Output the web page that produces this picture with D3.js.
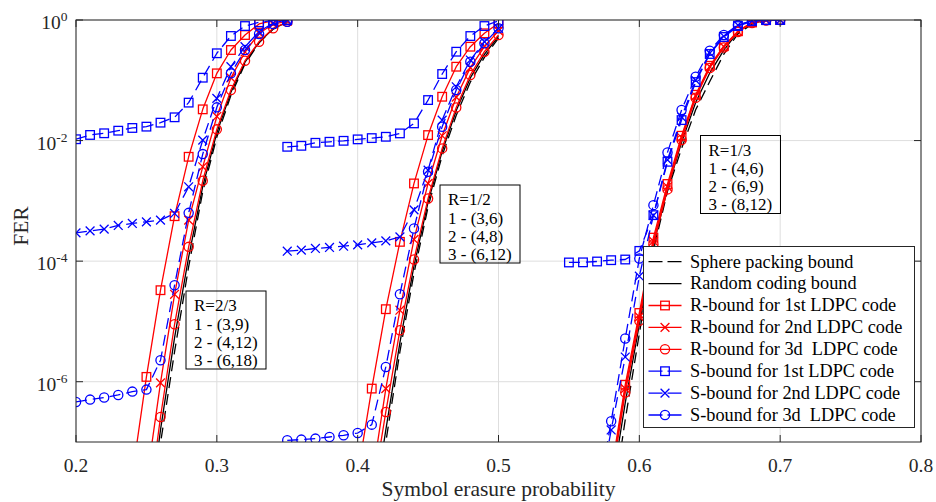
<!DOCTYPE html>
<html>
<head>
<meta charset="utf-8">
<script src="https://cdn.jsdelivr.net/npm/d3@7"></script>
<style>
  body { margin: 0; background: #fff; }
  svg { display: block; font-family: "Liberation Serif", "Times New Roman", serif; }
</style>
</head>
<body>
<svg id="chart" width="936" height="502"></svg>
<script>
// ---------- axis ticks ----------
const xTicks = [0.2, 0.3, 0.4, 0.5, 0.6, 0.7, 0.8];
const xTickLabels = ["0.2", "0.3", "0.4", "0.5", "0.6", "0.7", "0.8"];
const yTickExponents = [0, -2, -4, -6];

// ---------- R = 2/3 codes ----------
const x23 = [0.20, 0.21, 0.22, 0.23, 0.24, 0.25, 0.26, 0.27, 0.28, 0.29, 0.30, 0.31, 0.32, 0.33, 0.34, 0.35];
const sp23 = [null, null, null, null, null, 1.259e-9, 9.55e-8, 3.162e-6, 8.128e-5, 1.413e-3, 1.148e-2, 5.623e-2, 0.1862, 0.4169, 0.7079, 0.912];
const rc23 = [null, null, null, null, null, 2.512e-9, 1.585e-7, 5.37e-6, 1.175e-4, 1.738e-3, 1.349e-2, 6.31e-2, 0.1995, 0.4266, 0.7161, 0.9226];
const r1_23 = [null, null, null, null, 2.818e-8, 1.202e-6, 3.296e-5, 5.572e-4, 5.383e-3, 3.296e-2, 0.1303, 0.3177, 0.5636, 0.859, 0.977, 1.0];
const r2_23 = [null, null, null, null, null, 2.138e-8, 9.55e-7, 2.818e-5, 4.786e-4, 3.673e-3, 2.512e-2, 0.1096, 0.2951, 0.6026, 0.851, 0.955];
const r3_23 = [null, null, null, null, null, 4.467e-9, 2.6e-7, 8.974e-6, 1.726e-4, 2.153e-3, 1.535e-2, 6.887e-2, 0.2113, 0.4365, 0.7278, 0.933];
const s1_23 = [1.052e-2, 1.239e-2, 1.321e-2, 1.459e-2, 1.618e-2, 1.702e-2, 1.982e-2, 2.432e-2, 4.26e-2, 0.1104, 0.2805, 0.543, 0.794, 0.916, 0.99, 1.0];
const s2_23 = [2.944e-4, 3.177e-4, 3.396e-4, 3.908e-4, 4.217e-4, 4.487e-4, 4.786e-4, 6.18e-4, 1.71e-3, 1.019e-2, 5.01e-2, 0.168, 0.3606, 0.6397, 0.891, 1.0];
const s3_23 = [4.613e-7, 5.047e-7, 5.458e-7, 6.026e-7, 6.855e-7, 7.396e-7, 2.27e-6, 3.99e-5, 6.32e-4, 5.97e-3, 3.556e-2, 0.1303, 0.3177, 0.5861, 0.859, 0.938];

// ---------- R = 1/2 codes ----------
const x12 = [0.35, 0.36, 0.37, 0.38, 0.39, 0.40, 0.41, 0.42, 0.43, 0.44, 0.45, 0.46, 0.47, 0.48, 0.49, 0.50];
const sp12 = [null, null, null, null, null, null, 2.512e-9, 1.0e-7, 3.162e-6, 6.31e-5, 7.943e-4, 5.623e-3, 2.63e-2, 9.333e-2, 0.2399, 0.5012];
const rc12 = [null, null, null, null, null, null, 5.012e-9, 1.585e-7, 4.467e-6, 8.318e-5, 9.55e-4, 6.607e-3, 3.162e-2, 0.1096, 0.2692, 0.537];
const r1_12 = [null, null, null, null, null, 2.884e-8, 7.691e-7, 1.596e-5, 2.089e-4, 1.945e-3, 1.233e-2, 5.333e-2, 0.1679, 0.3606, 0.6012, 0.881];
const r2_12 = [null, null, null, null, null, null, 2.291e-8, 7.691e-7, 1.535e-5, 2.291e-4, 1.95e-3, 1.202e-2, 5.248e-2, 0.1622, 0.3631, 0.6607];
const r3_12 = [null, null, null, null, null, null, 1.175e-8, 3.148e-7, 7.145e-6, 1.064e-4, 1.096e-3, 7.413e-3, 3.548e-2, 0.1222, 0.2979, 0.5636];
const s1_12 = [7.889e-3, 8.185e-3, 9.183e-3, 9.55e-3, 9.908e-3, 1.047e-2, 1.099e-2, 1.156e-2, 1.315e-2, 1.928e-2, 4.699e-2, 0.127, 0.2979, 0.542, 0.794, 0.973];
const s2_12 = [1.462e-4, 1.521e-4, 1.622e-4, 1.687e-4, 1.77e-4, 1.862e-4, 2.009e-4, 2.168e-4, 2.529e-4, 7.096e-4, 3.236e-3, 2.188e-2, 7.816e-2, 0.2168, 0.4365, 0.7278];
const s3_12 = [1.067e-7, 1.096e-7, 1.138e-7, 1.211e-7, 1.291e-7, 1.409e-7, 1.941e-7, 1.758e-6, 2.831e-5, 3.483e-4, 3.034e-3, 1.694e-2, 6.887e-2, 0.2032, 0.4102, 0.7278];

// ---------- R = 1/3 codes ----------
const x13 = [0.55, 0.56, 0.57, 0.58, 0.59, 0.60, 0.61, 0.62, 0.63, 0.64, 0.65, 0.66, 0.67, 0.68, 0.69, 0.70];
const sp13 = [null, null, null, 6.31e-9, 2.344e-7, 6.31e-6, 1.514e-4, 1.445e-3, 7.413e-3, 3.236e-2, 9.55e-2, 0.2716, 0.5888, 0.8511, 0.966, 1.0];
const rc13 = [null, null, null, 1.585e-8, 4.467e-7, 8.913e-6, 1.82e-4, 1.585e-3, 9.333e-3, 4.266e-2, 0.1318, 0.3162, 0.631, 0.8913, 0.977, 1.0];
const r1_13 = [null, null, null, 3.162e-8, 8.913e-7, 1.38e-5, 2.455e-4, 1.905e-3, 1.202e-2, 5.754e-2, 0.1738, 0.3715, 0.6531, 0.912, 1.0, 1.0];
const r2_13 = [null, null, null, 2.692e-8, 7.691e-7, 1.189e-5, 2.143e-4, 1.71e-3, 1.122e-2, 5.495e-2, 0.1679, 0.3606, 0.6397, 0.9016, 0.9886, 1.0];
const r3_13 = [null, null, null, 2.239e-8, 6.607e-7, 1.023e-5, 1.905e-4, 1.549e-3, 1.023e-2, 5.129e-2, 0.1603, 0.3508, 0.631, 0.8913, 0.9817, 1.0];
const s1_13 = [9.506e-5, 9.55e-5, 9.863e-5, 1.038e-4, 1.064e-4, 1.479e-4, 5.794e-4, 4.446e-3, 2.188e-2, 9.333e-2, 0.2729, 0.5224, 0.794, 0.955, 0.995, 1.0];
const s2_13 = [null, null, 7.943e-9, 1.585e-7, 2.57e-6, 5.623e-5, 5.754e-4, 4.786e-3, 2.455e-2, 0.1, 0.2818, 0.537, 0.8222, 0.966, 1.0, 1.0];
const s3_13 = [null, null, 1.0e-8, 2.203e-7, 5.2e-6, 1.107e-4, 8.492e-4, 6.368e-3, 3.206e-2, 0.1146, 0.309, 0.5636, 0.826, 0.973, 1.0, 1.0];

// ---------- legend and annotation text ----------
const legendLabels = [
  "Sphere packing bound",
  "Random coding bound",
  "R-bound for 1st LDPC code",
  "R-bound for 2nd LDPC code",
  "R-bound for 3d  LDPC code",
  "S-bound for 1st LDPC code",
  "S-bound for 2nd LDPC code",
  "S-bound for 3d  LDPC code"
];
const noteR23 = ["R=2/3", "1 - (3,9)", "2 - (4,12)", "3 - (6,18)"];
const noteR12 = ["R=1/2", "1 - (3,6)", "2 - (4,8)", "3 - (6,12)"];
const noteR13 = ["R=1/3", "1 - (4,6)", "2 - (6,9)", "3 - (8,12)"];

// ---------- drawing ----------
const W = 936, H = 502;
const plot = { left: 76, right: 921, top: 20, bottom: 442 };
const axisColor = "#262626";

const svg = d3.select("#chart");
const x = d3.scaleLinear().domain([0.2, 0.8]).range([plot.left, plot.right]);
const y = d3.scaleLog().domain([1e-7, 1]).range([plot.bottom, plot.top]);

svg.append("defs").append("clipPath").attr("id", "plotClip")
  .append("rect")
  .attr("x", plot.left).attr("y", plot.top)
  .attr("width", plot.right - plot.left).attr("height", plot.bottom - plot.top);

// grid
const grid = svg.append("g").attr("stroke", "#dedede").attr("stroke-width", 1);
xTicks.forEach(t => {
  grid.append("line").attr("x1", x(t)).attr("x2", x(t))
    .attr("y1", plot.top).attr("y2", plot.bottom);
});
yTickExponents.forEach(e => {
  grid.append("line").attr("x1", plot.left).attr("x2", plot.right)
    .attr("y1", y(Math.pow(10, e))).attr("y2", y(Math.pow(10, e)));
});

// series styles, in legend order
const styles = [
  { color: "#000000", dash: "11,6", marker: null, width: 1.3 },
  { color: "#000000", dash: null, marker: null, width: 1.3 },
  { color: "#ff0000", dash: null, marker: "square", width: 1.3 },
  { color: "#ff0000", dash: null, marker: "x", width: 1.3 },
  { color: "#ff0000", dash: null, marker: "circle", width: 1.3 },
  { color: "#0000ff", dash: "11,6", marker: "square", width: 1.3 },
  { color: "#0000ff", dash: "11,6", marker: "x", width: 1.3 },
  { color: "#0000ff", dash: "11,6", marker: "circle", width: 1.3 }
];

const groups = [
  { xs: x23, series: [sp23, rc23, r1_23, r2_23, r3_23, s1_23, s2_23, s3_23] },
  { xs: x12, series: [sp12, rc12, r1_12, r2_12, r3_12, s1_12, s2_12, s3_12] },
  { xs: x13, series: [sp13, rc13, r1_13, r2_13, r3_13, s1_13, s2_13, s3_13] }
];

function drawMarker(g, kind, cx, cy, color) {
  if (kind === "square") {
    g.append("rect").attr("x", cx - 4.3).attr("y", cy - 4.3)
      .attr("width", 8.6).attr("height", 8.6)
      .attr("fill", "none").attr("stroke", color).attr("stroke-width", 1.3);
  } else if (kind === "circle") {
    g.append("circle").attr("cx", cx).attr("cy", cy).attr("r", 4.6)
      .attr("fill", "none").attr("stroke", color).attr("stroke-width", 1.3);
  } else if (kind === "x") {
    const s = 4.4;
    g.append("path")
      .attr("d", `M${cx - s},${cy - s}L${cx + s},${cy + s}M${cx - s},${cy + s}L${cx + s},${cy - s}`)
      .attr("fill", "none").attr("stroke", color).attr("stroke-width", 1.3);
  }
}

const plotArea = svg.append("g").attr("clip-path", "url(#plotClip)");
const line = d3.line()
  .defined(d => d.v !== null)
  .x(d => x(d.x))
  .y(d => y(d.v));

groups.forEach(grp => {
  grp.series.forEach((vals, si) => {
    const st = styles[si];
    const pts = grp.xs.map((xv, i) => ({ x: xv, v: vals[i] }));
    const sg = plotArea.append("g");
    sg.append("path")
      .attr("d", line(pts))
      .attr("fill", "none")
      .attr("stroke", st.color)
      .attr("stroke-width", st.width)
      .attr("stroke-dasharray", st.dash)
      .attr("stroke-linejoin", "round");
    if (st.marker) {
      pts.filter(p => p.v !== null).forEach(p => drawMarker(sg, st.marker, x(p.x), y(p.v), st.color));
    }
  });
});

// annotation boxes
function note(lines, left, top) {
  const g = svg.append("g");
  g.append("rect").attr("x", left).attr("y", top).attr("width", 80).attr("height", 78)
    .attr("fill", "none").attr("stroke", "#000").attr("stroke-width", 1);
  lines.forEach((t, i) => {
    g.append("text").attr("x", left + 8).attr("y", top + 20.4 + i * 18.1)
      .attr("font-size", 17).attr("fill", "#000").text(t);
  });
}
note(noteR23, 186, 291);
note(noteR12, 440, 185);
note(noteR13, 700.5, 135.5);

// axes frame and ticks
const axes = svg.append("g").attr("stroke", axisColor).attr("stroke-width", 1).attr("fill", "none");
axes.append("rect").attr("x", plot.left).attr("y", plot.top)
  .attr("width", plot.right - plot.left).attr("height", plot.bottom - plot.top);
const tickLen = 7;
xTicks.forEach(t => {
  axes.append("line").attr("x1", x(t)).attr("x2", x(t)).attr("y1", plot.bottom).attr("y2", plot.bottom - tickLen);
  axes.append("line").attr("x1", x(t)).attr("x2", x(t)).attr("y1", plot.top).attr("y2", plot.top + tickLen);
});
yTickExponents.forEach(e => {
  const yy = y(Math.pow(10, e));
  axes.append("line").attr("x1", plot.left).attr("x2", plot.left + tickLen).attr("y1", yy).attr("y2", yy);
  axes.append("line").attr("x1", plot.right).attr("x2", plot.right - tickLen).attr("y1", yy).attr("y2", yy);
});

// tick labels
xTicks.forEach((t, i) => {
  svg.append("text").attr("x", x(t)).attr("y", 472)
    .attr("text-anchor", "middle").attr("font-size", 19.5).attr("fill", axisColor)
    .text(xTickLabels[i]);
});
yTickExponents.forEach(e => {
  const yy = y(Math.pow(10, e));
  const t = svg.append("text").attr("x", 67.5).attr("y", yy + 9)
    .attr("text-anchor", "end").attr("font-size", 19.5).attr("fill", axisColor);
  t.append("tspan").text("10");
  t.append("tspan").attr("dy", -8).attr("font-size", 13.5).text(String(e).replace("-", "-"));
});

// axis labels
svg.append("text").attr("x", (plot.left + plot.right) / 2).attr("y", 496)
  .attr("text-anchor", "middle").attr("font-size", 21.5).attr("fill", axisColor)
  .text("Symbol erasure probability");
svg.append("text").attr("transform", "translate(28,226) rotate(-90)")
  .attr("text-anchor", "middle").attr("font-size", 21.5).attr("fill", axisColor)
  .text("FER");

// legend
const lg = svg.append("g");
lg.append("rect").attr("x", 643.5).attr("y", 246.5).attr("width", 271).attr("height", 181)
  .attr("fill", "#fff").attr("stroke", axisColor).attr("stroke-width", 1);
legendLabels.forEach((lab, i) => {
  const st = styles[i];
  const cy = 261.7 + i * 21.9;
  lg.append("line").attr("x1", 648.5).attr("x2", 681.5).attr("y1", cy).attr("y2", cy)
    .attr("stroke", st.color).attr("stroke-width", st.width)
    .attr("stroke-dasharray", st.dash && i === 0 ? "14,5" : (st.dash ? "14,5" : null));
  if (st.marker) drawMarker(lg, st.marker, 665, cy, st.color);
  lg.append("text").attr("x", 690).attr("y", cy + 5.8)
    .attr("font-size", 18.3).attr("fill", "#000")
    .style("white-space", "pre")
    .text(lab);
});
</script>
</body>
</html>
